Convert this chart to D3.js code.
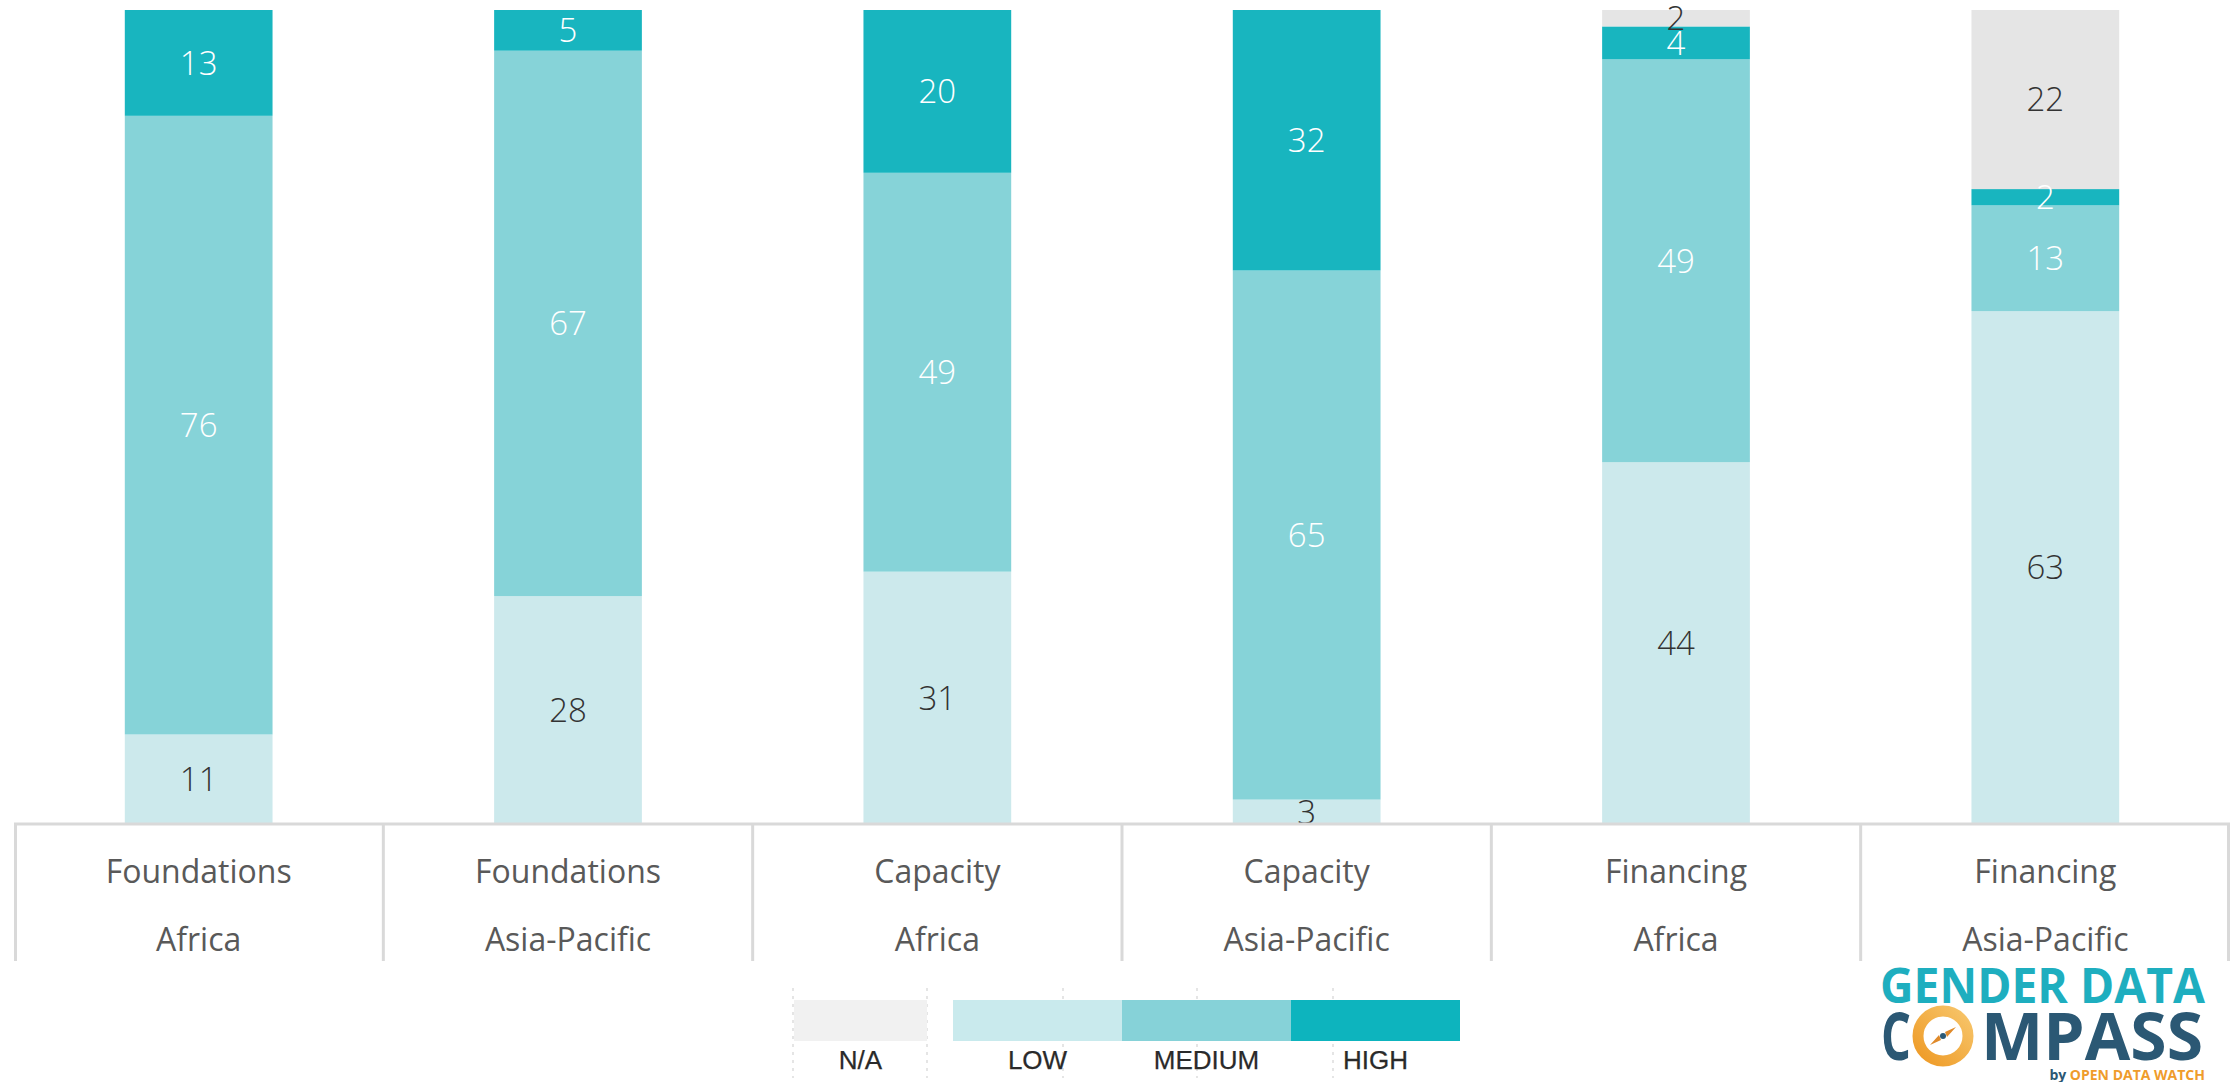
<!DOCTYPE html>
<html>
<head>
<meta charset="utf-8">
<script src="https://cdn.jsdelivr.net/npm/d3@7"></script>
<style>
  html, body { margin: 0; padding: 0; background: #fff; }
  svg { display: block; }
</style>
</head>
<body>
<svg id="chart" width="2230" height="1082"></svg>
<script>
// data
const pillars = ["Foundations", "Foundations", "Capacity", "Capacity", "Financing", "Financing"];
const regions = ["Africa", "Asia-Pacific", "Africa", "Asia-Pacific", "Africa", "Asia-Pacific"];
const lowVals = [11, 28, 31, 3, 44, 63];
const mediumVals = [76, 67, 49, 65, 49, 13];
const highVals = [13, 5, 20, 32, 4, 2];
const naVals = [0, 0, 0, 0, 2, 22];
const levels = ["low", "medium", "high", "na"];
const legendLabels = ["N/A", "LOW", "MEDIUM", "HIGH"];

const W = 2230, H = 1082;
const margin = { top: 10, left: 14, right: 0, baseline: 824, tableBottom: 961 };

const svg = d3.select("#chart");

const rows = pillars.map((p, i) => ({
  key: p + "|" + regions[i],
  pillar: p,
  region: regions[i],
  low: lowVals[i],
  medium: mediumVals[i],
  high: highVals[i],
  na: naVals[i],
}));

const colors = d3.scaleOrdinal()
  .domain(levels)
  .range(["#cce9ec", "#86d3d8", "#18b5bf", "#e5e5e5"]);
const labelColors = d3.scaleOrdinal()
  .domain(levels)
  .range(["#333333", "#ffffff", "#ffffff", "#333333"]);

// columns of the table / bars
const x = d3.scaleBand()
  .domain(rows.map((d) => d.key))
  .range([margin.left, W - margin.right])
  .padding(0);
const barW = x.bandwidth() * 0.4;

const y = d3.scaleLinear().domain([0, 1]).range([margin.baseline, margin.top]);

const series = d3.stack().keys(levels).offset(d3.stackOffsetExpand)(rows);

const barsG = svg.append("g").attr("class", "bars");

series.forEach((s) => {
  const g = barsG.append("g").attr("fill", colors(s.key));
  g.selectAll("rect")
    .data(s)
    .join("rect")
    .attr("x", (d) => x(d.data.key) + (x.bandwidth() - barW) / 2)
    .attr("y", (d) => y(d[1]))
    .attr("width", barW)
    .attr("height", (d) => Math.max(0, y(d[0]) - y(d[1])));
});

// value labels, centred in each segment
series.forEach((s) => {
  barsG.append("g")
    .selectAll("text")
    .data(s.filter((d) => d.data[s.key] > 0))
    .join("text")
    .attr("x", (d) => x(d.data.key) + x.bandwidth() / 2)
    .attr("y", (d) => (y(d[0]) + y(d[1])) / 2)
    .attr("dy", "0.36em")
    .attr("text-anchor", "middle")
    .attr("fill", labelColors(s.key))
    .style("font-family", "'Open Sans', sans-serif")
    .style("font-weight", 300)
    .style("font-size", "33px")
    .text((d) => d.data[s.key]);
});

// category table under the bars
const tableG = svg.append("g").attr("class", "table");
tableG.append("line")
  .attr("x1", margin.left).attr("x2", W)
  .attr("y1", margin.baseline).attr("y2", margin.baseline)
  .attr("stroke", "#d9d9d9").attr("stroke-width", 3);

const edges = rows.map((d) => x(d.key)).concat([x(rows[rows.length - 1].key) + x.bandwidth() - 1.5]);
tableG.selectAll("line.sep")
  .data(edges)
  .join("line")
  .attr("class", "sep")
  .attr("x1", (d, i) => (i === 0 ? d + 1.5 : d)).attr("x2", (d, i) => (i === 0 ? d + 1.5 : d))
  .attr("y1", margin.baseline).attr("y2", margin.tableBottom)
  .attr("stroke", "#d9d9d9").attr("stroke-width", 3);

const cell = tableG.selectAll("g.cell")
  .data(rows)
  .join("g")
  .attr("class", "cell")
  .attr("transform", (d) => `translate(${x(d.key) + x.bandwidth() / 2},0)`)
  .style("font-family", "'Open Sans', sans-serif")
  .style("font-size", "32px")
  .attr("fill", "#595959")
  .attr("text-anchor", "middle");
cell.append("text").attr("y", 883).text((d) => d.pillar);
cell.append("text").attr("y", 951).text((d) => d.region);

// legend (N/A, LOW, MEDIUM, HIGH)
const legendColors = ["#f1f1f1", "#c9eaed", "#86d2d8", "#0db4be"];
const lx = d3.scaleBand().domain(legendLabels).range([784, 1460]).padding(0);
const legend = svg.append("g").attr("class", "legend");

legend.selectAll("line")
  .data([793, 927, 1063, 1197, 1333])
  .join("line")
  .attr("x1", (d) => d).attr("x2", (d) => d)
  .attr("y1", 988).attr("y2", 1078)
  .attr("stroke", "#cfcfcf")
  .attr("stroke-width", 1.5)
  .attr("stroke-dasharray", "3,5")
  .attr("opacity", 0.7);

legend.selectAll("rect")
  .data(legendLabels)
  .join("rect")
  .attr("x", (d, i) => (i === 0 ? lx(d) + 10 : lx(d)))
  .attr("width", (d, i) => (i === 0 ? lx.bandwidth() - 36 : lx.bandwidth()))
  .attr("y", 1000)
  .attr("height", 41)
  .attr("fill", (d, i) => legendColors[i]);

legend.selectAll("text")
  .data(legendLabels)
  .join("text")
  .attr("x", (d, i) => (i === 0 ? lx(d) + 10 + (lx.bandwidth() - 36) / 2 : lx(d) + lx.bandwidth() / 2))
  .attr("y", 1069)
  .attr("text-anchor", "middle")
  .attr("fill", "#2a2a2a")
  .attr("stroke", "#2a2a2a")
  .attr("stroke-width", 0.25)
  .style("font-family", "'Liberation Sans Narrow', 'Liberation Sans', sans-serif")
  .style("font-size", "26px")
  .text((d) => d);

// Gender Data Compass logo
const logo = svg.append("g").attr("class", "logo")
  .style("font-family", "'Open Sans', sans-serif")
  .style("font-weight", "bold");

logo.append("text")
  .attr("x", 1880).attr("y", 1003)
  .attr("textLength", 325).attr("lengthAdjust", "spacingAndGlyphs")
  .attr("fill", "#1eaebf")
  .style("font-size", "49px")
  .text("GENDER DATA");

logo.append("text")
  .attr("x", 1881).attr("y", 1060)
  .attr("textLength", 30).attr("lengthAdjust", "spacingAndGlyphs")
  .attr("fill", "#2b5874")
  .style("font-size", "67px")
  .text("C");

logo.append("text")
  .attr("x", 1981).attr("y", 1060)
  .attr("textLength", 222).attr("lengthAdjust", "spacingAndGlyphs")
  .attr("fill", "#2b5874")
  .style("font-size", "67px")
  .text("MPASS");

const ringGrad = svg.append("defs").append("linearGradient")
  .attr("id", "ringGrad")
  .attr("x1", "1").attr("y1", "0").attr("x2", "0").attr("y2", "1");
ringGrad.append("stop").attr("offset", "0%").attr("stop-color", "#f7c56a");
ringGrad.append("stop").attr("offset", "100%").attr("stop-color", "#ee9a26");

logo.append("circle")
  .attr("cx", 1943).attr("cy", 1036).attr("r", 25)
  .attr("fill", "none")
  .attr("stroke", "url(#ringGrad)")
  .attr("stroke-width", 11);
logo.append("path")
  .attr("d", "M1930,1045 L1939,1035 L1941,1040 Z M1956,1027 L1947,1037 L1945,1032 Z")
  .attr("fill", "#e08a2a");
logo.append("circle")
  .attr("cx", 1943).attr("cy", 1036).attr("r", 3)
  .attr("fill", "#2b5874");

const by = logo.append("text")
  .attr("x", 2205).attr("y", 1080)
  .attr("text-anchor", "end")
  .style("font-size", "14px");
by.append("tspan").attr("fill", "#2b5874").text("by ");
by.append("tspan").attr("fill", "#ef9c2c").text("OPEN DATA WATCH");
</script>
</body>
</html>
